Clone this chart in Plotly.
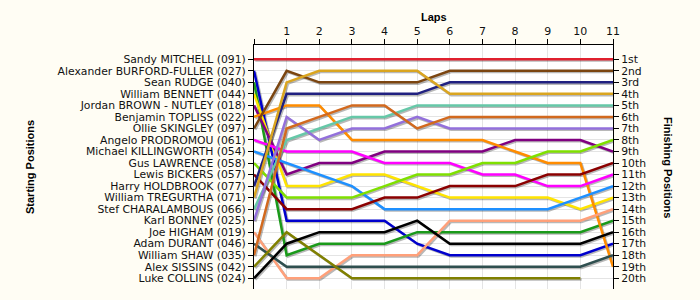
import plotly.graph_objects as go

laps = list(range(12))
lap_labels = ["", "1", "2", "3", "4", "5", "6", "7", "8", "9", "10", "11"]

drivers = [
    "Sandy MITCHELL (091)", "Alexander BURFORD-FULLER (027)", "Sean RUDGE (040)",
    "William BENNETT (044)", "Jordan BROWN - NUTLEY (018)", "Benjamin TOPLISS (022)",
    "Ollie SKINGLEY (097)", "Angelo PRODROMOU (061)", "Michael KILLINGWORTH (054)",
    "Gus LAWRENCE (058)", "Lewis BICKERS (057)", "Harry HOLDBROOK (077)",
    "William TREGURTHA (071)", "Stef CHARALAMBOUS (066)", "Karl BONNEY (025)",
    "Joe HIGHAM (019)", "Adam DURANT (046)", "William SHAW (035)",
    "Alex SISSINS (042)", "Luke COLLINS (024)",
]
finish_labels = ["1st", "2nd", "3rd", "4th", "5th", "6th", "7th", "8th", "9th", "10th",
                 "11th", "12th", "13th", "14th", "15th", "16th", "17th", "18th", "19th", "20th"]

# positions per lap (lap 0 = grid)
pos_mitchell = [1, 1, 1, 1, 1, 1, 1, 1, 1, 1, 1, 1]
pos_burford = [2, 15, 15, 15, 15, 17, 18, 18, 18, 18, 18, 17]
pos_rudge = [3, 18, 17, 17, 17, 16, 16, 16, 16, 16, 16, 15]
pos_bennett = [4, 12, 12, 11, 11, 12, 13, 13, 13, 13, 14, 13]
pos_brown = [5, 11, 10, 10, 9, 9, 9, 9, 8, 8, 8, 9]
pos_topliss = [6, 5, 5, 8, 8, 8, 8, 8, 9, 10, 10, 19]
pos_skingley = [7, 2, 3, 3, 3, 3, 2, 2, 2, 2, 2, 2]
pos_prodromou = [8, 9, 9, 9, 10, 10, 10, 11, 11, 12, 12, 11]
pos_killingworth = [9, 10, 11, 12, 14, 14, 14, 14, 14, 14, 13, 12]
pos_lawrence = [10, 13, 13, 13, 12, 11, 11, 10, 10, 9, 9, 8]
pos_bickers = [11, 14, 14, 14, 13, 13, 12, 12, 12, 11, 11, 10]
pos_holdbrook = [12, 4, 4, 4, 4, 4, 3, 3, 3, 3, 3, 3]
pos_tregurtha = [13, 3, 2, 2, 2, 2, 4, 4, 4, 4, 4, 4]
pos_charalambous = [14, 8, 7, 6, 6, 5, 5, 5, 5, 5, 5, 5]
pos_bonney = [15, 6, 8, 7, 7, 6, 7, 7, 7, 7, 7, 7]
pos_higham = [16, 20, 20, 18, 18, 18, 15, 15, 15, 15, 15, 14]
pos_durant = [17, 19, 19, 19, 19, 19, 19, 19, 19, 19, 19, 18]
pos_shaw = [18, 7, 6, 5, 5, 7, 6, 6, 6, 6, 6, 6]
pos_sissins = [19, 16, 18, 20, 20, 20, 20, 20, 20, 20, 20, None]
pos_collins = [20, 17, 16, 16, 16, 15, 17, 17, 17, 17, 17, 16]

positions = [pos_mitchell, pos_burford, pos_rudge, pos_bennett, pos_brown, pos_topliss,
             pos_skingley, pos_prodromou, pos_killingworth, pos_lawrence, pos_bickers,
             pos_holdbrook, pos_tregurtha, pos_charalambous, pos_bonney, pos_higham,
             pos_durant, pos_shaw, pos_sissins, pos_collins]

colors = ["#E0202F", "#0000CD", "#1A9A1A", "#FFE400", "#800080", "#FF8C00",
          "#7B4510", "#FF00FF", "#1E90FF", "#7FE000", "#8B0000", "#202080",
          "#DAA520", "#66C8A8", "#9370DB", "#FFA07A", "#2F4F4F", "#D2691E",
          "#808000", "#000000"]

FONT = "DejaVu Sans"
TFONT = "Liberation Sans"
TXT = "#111111"
GRID = "#E4E4E4"

# pixel geometry helpers for shadow offset
px_per_lap = 32.6
px_per_row = 11.53
x_range = [0, 11]
y_range = [20.93, -0.24]
sx = 1.3 / px_per_lap
sy = 1.3 / px_per_row

fig = go.Figure()

# shadows on base axes
for p in positions:
    fig.add_trace(go.Scatter(x=laps, y=p, mode="lines", xaxis="x", yaxis="y",
                             line=dict(color="rgba(0,0,0,0.28)", width=2.5),
                             hoverinfo="skip", showlegend=False, connectgaps=False))

# real lines on overlay axes
for name, p, c in zip(drivers, positions, colors):
    fig.add_trace(go.Scatter(x=laps, y=p, mode="lines", xaxis="x2", yaxis="y2",
                             name=name, line=dict(color=c, width=2.5),
                             showlegend=False, connectgaps=False))

# dummy for right axis
fig.add_trace(go.Scatter(x=[None], y=[None], xaxis="x2", yaxis="y3",
                         showlegend=False, hoverinfo="skip"))

rows = list(range(1, 21))

fig.update_layout(
    width=700, height=300,
    margin=dict(l=254, r=87, t=45, b=11),
    paper_bgcolor="#FFFDF4",
    plot_bgcolor="#FFFFFF",
    font=dict(family=FONT, size=11, color=TXT),
    showlegend=False,
    xaxis=dict(visible=False, range=[x_range[0] - sx, x_range[1] - sx]),
    yaxis=dict(visible=False, range=[y_range[0] - sy, y_range[1] - sy]),
    xaxis2=dict(overlaying="x", side="top", range=x_range,
                tickmode="array", tickvals=laps, ticktext=lap_labels,
                showgrid=True, gridcolor=GRID, gridwidth=1,
                showline=True, linecolor="#000000", linewidth=1,
                ticks="outside", ticklen=5, tickcolor="#000000",
                tickfont=dict(family=FONT, size=11, color=TXT),
                zeroline=False),
    yaxis2=dict(overlaying="y", side="left", range=y_range,
                tickmode="array", tickvals=rows, ticktext=drivers,
                showgrid=True, gridcolor=GRID, gridwidth=1,
                showline=True, linecolor="#000000", linewidth=1,
                ticks="outside", ticklen=5, tickcolor="#000000",
                tickfont=dict(family=FONT, size=10.8, color=TXT),
                zeroline=False),
    yaxis3=dict(overlaying="y", side="right", range=y_range,
                tickmode="array", tickvals=rows, ticktext=finish_labels,
                showgrid=False,
                showline=True, linecolor="#000000", linewidth=1,
                ticks="outside", ticklen=5, tickcolor="#000000",
                tickfont=dict(family=FONT, size=10.8, color=TXT),
                zeroline=False),
    annotations=[
        dict(text="<b>Laps</b>", xref="paper", yref="paper", x=0.5, y=1,
             yshift=28, showarrow=False, font=dict(family=TFONT, size=11, color="#000000"),
             xanchor="center", yanchor="middle"),
        dict(text="<b>Starting Positions</b>", xref="paper", yref="paper", x=0, y=0.5,
             xshift=-224, showarrow=False, textangle=-90,
             font=dict(family=TFONT, size=11, color="#000000"),
             xanchor="center", yanchor="middle"),
        dict(text="<b>Finishing Positions</b>", xref="paper", yref="paper", x=1, y=0.5,
             xshift=55, showarrow=False, textangle=90,
             font=dict(family=TFONT, size=11, color="#000000"),
             xanchor="center", yanchor="middle"),
    ],
)

fig.write_html("out.html")
